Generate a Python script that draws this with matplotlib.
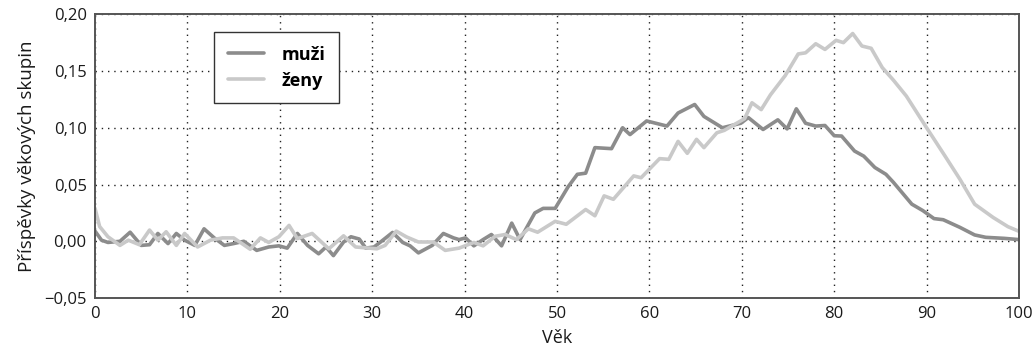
import matplotlib
matplotlib.use("Agg")
import matplotlib.pyplot as plt
import matplotlib.ticker as ticker

# ── data ──────────────────────────────────────────────────────────────────────

ages_m = [0, 0.7, 1.4, 2.7, 3.8, 5.0, 5.9, 6.8, 7.9, 8.8, 9.7, 10.8, 11.8, 12.9,
          14.0, 15.0, 16.1, 17.5, 18.8, 19.9, 20.8, 21.9, 23.0, 24.2, 25.0, 25.8,
          26.9, 27.7, 28.6, 29.3, 30.2, 31.0, 32.2, 33.3, 34.1, 35.0, 36.5, 37.7,
          38.8, 39.4, 40.1, 41.0, 42.0, 42.9, 44.0, 45.1, 46.0, 47.6, 48.5, 49.8,
          51.2, 52.2, 53.1, 54.1, 55.9, 57.1, 57.9, 59.7, 61.9, 63.1, 64.9, 65.9,
          67.9, 69.9, 70.7, 72.3, 73.9, 74.9, 75.9, 76.9, 78.0, 79.0, 80.0, 80.8,
          82.2, 83.2, 84.4, 85.6, 86.4, 88.4, 89.6, 90.8, 91.8, 93.6, 95.2, 96.4,
          98.4, 100]
muzi = [0.009, 0.001, -0.001, 0.000, 0.008, -0.0036, -0.003, 0.0069, -0.002, 0.0069,
        0.001, -0.0036, 0.011, 0.003, -0.0036, -0.002, 0.000, -0.008, -0.005, -0.004,
        -0.006, 0.0069, -0.0036, -0.011, -0.005, -0.0126, -0.0006, 0.004, 0.002, -0.006,
        -0.005, 0.000, 0.0078, -0.001, -0.004, -0.0102, -0.0036, 0.0069, 0.003, 0.0015,
        0.003, -0.004, 0.0015, 0.006, -0.004, 0.016, 0.0015, 0.025, 0.029, 0.029,
        0.048, 0.059, 0.060, 0.0825, 0.0816, 0.100, 0.094, 0.106, 0.1015, 0.113,
        0.1205, 0.110, 0.100, 0.104, 0.109, 0.0985, 0.107, 0.099, 0.1167, 0.104,
        0.1015, 0.102, 0.093, 0.0927, 0.0795, 0.075, 0.065, 0.059, 0.052, 0.0327,
        0.027, 0.020, 0.019, 0.0123, 0.0056, 0.0035, 0.0026, 0.0015]

ages_z = [0, 0.5, 1.4, 2.7, 3.6, 4.8, 5.9, 6.8, 7.7, 8.8, 9.7, 11.1, 12.5, 13.8,
          15.0, 16.8, 17.9, 18.8, 19.9, 21.0, 21.9, 23.5, 25.3, 26.9, 28.2, 30.5,
          31.4, 32.6, 33.7, 35.0, 36.6, 37.9, 39.4, 41.0, 42.0, 43.3, 44.4, 45.6,
          46.9, 47.9, 49.8, 51.0, 53.1, 54.1, 55.1, 56.1, 58.3, 59.1, 61.1, 62.1,
          63.1, 64.1, 65.1, 65.9, 67.3, 68.1, 70.3, 71.1, 72.1, 73.1, 74.7, 76.1,
          76.9, 78.0, 79.0, 80.2, 81.0, 82.0, 83.0, 84.0, 85.2, 86.4, 87.8, 90.0,
          92.0, 93.6, 95.2, 97.2, 98.8, 100]
zeny = [0.029, 0.013, 0.004, -0.0036, 0.001, -0.003, 0.0099, 0.001, 0.0084, -0.0036,
        0.0069, -0.005, 0.001, 0.003, 0.003, -0.007, 0.003, -0.001, 0.004, 0.014,
        0.0024, 0.0069, -0.0066, 0.0048, -0.005, -0.0066, -0.0036, 0.009, 0.0039, -0.0006,
        -0.0006, -0.008, -0.006, -0.001, -0.004, 0.0044, 0.006, 0.0015, 0.011, 0.008,
        0.0176, 0.015, 0.028, 0.0225, 0.040, 0.037, 0.0576, 0.056, 0.0728, 0.0722,
        0.088, 0.0775, 0.0898, 0.0825, 0.0956, 0.0977, 0.108, 0.122, 0.116, 0.129,
        0.146, 0.165, 0.166, 0.174, 0.169, 0.177, 0.175, 0.183, 0.172, 0.170,
        0.153, 0.142, 0.128, 0.100, 0.075, 0.0547, 0.0327, 0.021, 0.0129, 0.0088]

x_ticks = list(range(0, 101, 10))
y_ticks = [-0.05, 0.00, 0.05, 0.10, 0.15, 0.20]

# ── plotting ──────────────────────────────────────────────────────────────────

plt.rcParams["font.family"] = ["Open Sans", "DejaVu Sans"]

fig = plt.figure(figsize=(10.34, 3.47), dpi=100)
ax = fig.add_axes([0.0919, 0.141, 0.8936, 0.818])

ax.plot(ages_m, muzi, color="#8c8c8c", lw=2.6, label="muži",
        solid_joinstyle="round", solid_capstyle="round")
ax.plot(ages_z, zeny, color="#c9c9c9", lw=2.6, label="ženy",
        solid_joinstyle="round", solid_capstyle="round")

ax.set_xlim(0, 100)
ax.set_ylim(-0.05, 0.20)
ax.xaxis.set_major_locator(ticker.FixedLocator(x_ticks))
ax.yaxis.set_major_locator(ticker.FixedLocator(y_ticks))
ax.yaxis.set_major_formatter(
    ticker.FuncFormatter(lambda v, _: f"{v:.2f}".replace(".", ",").replace("-", "\u2212")))
ax.tick_params(length=0, labelsize=12, pad=6, colors="#1a1a1a")

ax.grid(True, color="#222222", ls=(0, (1, 3.5)), lw=1.0)
for s in ax.spines.values():
    s.set_color("#555555")
    s.set_linewidth(1.4)

ax.set_xlabel("Věk", fontsize=13, labelpad=5, color="#1a1a1a")
ax.set_ylabel("Příspěvky věkových skupin", fontsize=13.5, labelpad=6, color="#1a1a1a")

leg = ax.legend(loc="upper left", bbox_to_anchor=(0.129, 0.937), borderaxespad=0,
                fancybox=False, framealpha=1, edgecolor="#333333",
                prop={"size": 13, "weight": "bold"}, handlelength=2.0,
                borderpad=0.75, labelspacing=0.45, handletextpad=1.0)
leg.get_frame().set_linewidth(1.0)

fig.savefig("out.png", dpi=100)
